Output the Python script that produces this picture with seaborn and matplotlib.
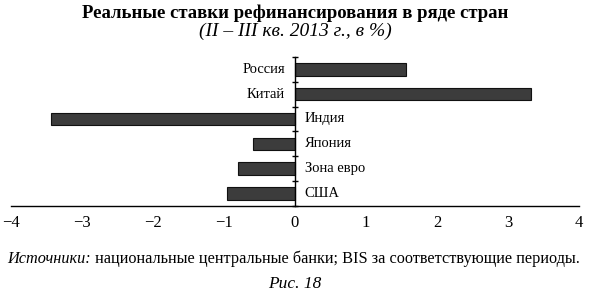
import matplotlib
matplotlib.use("Agg")
import matplotlib.pyplot as plt
import seaborn as sns
import pandas as pd
from matplotlib.transforms import offset_copy

countries = ["Россия", "Китай", "Индия", "Япония", "Зона евро", "США"]
rates = [1.57, 3.33, -3.44, -0.59, -0.80, -0.96]
xticks = [-4, -3, -2, -1, 0, 1, 2, 3, 4]
xticklabels = ["−4", "−3", "−2", "−1", "0", "1", "2", "3", "4"]

title = "Реальные ставки рефинансирования в ряде стран"
subtitle = "(II – III кв. 2013 г., в %)"
source_it = "Источники:"
source_rest = " национальные центральные банки; BIS за соответствующие периоды."
fig_label = "Рис. 18"

sns.set_theme(style="white")
plt.rcParams["font.family"] = ["Liberation Serif", "DejaVu Serif"]

df = pd.DataFrame({"country": countries, "rate": rates})

fig = plt.figure(figsize=(5.90, 3.01), dpi=100)
ax = fig.add_axes([0.0186, 0.316, 0.9626, 0.495])

sns.barplot(data=df, y="country", x="rate", orient="h", ax=ax,
            color="#3c3c3c", edgecolor="#111111", linewidth=0.8,
            width=0.5, saturation=1)

ax.set_xlim(-4, 4)
ax.set_ylim(len(countries) - 0.5, -0.5)
ax.set_xlabel("")
ax.set_ylabel("")
ax.set_xticks(xticks)
ax.set_xticklabels(xticklabels, fontsize=12)
ax.set_yticks([i - 0.5 for i in range(len(countries) + 1)])
ax.set_yticklabels([])

for s in ["top", "right"]:
    ax.spines[s].set_visible(False)
ax.spines["left"].set_position(("data", 0))
ax.spines["left"].set_color("black")
ax.spines["bottom"].set_color("black")
ax.spines["left"].set_linewidth(1.0)
ax.spines["bottom"].set_linewidth(1.0)
ax.tick_params(axis="x", direction="inout", length=5, width=1, color="black", pad=4, labelcolor="black")
ax.tick_params(axis="y", direction="inout", length=5, width=1, color="black", left=True)

for i, (c, v) in enumerate(zip(countries, rates)):
    if v >= 0:
        t = offset_copy(ax.transData, fig=fig, x=-7, y=0, units="points")
        ax.text(0, i, c, transform=t, ha="right", va="center", fontsize=10.5, color="black")
    else:
        t = offset_copy(ax.transData, fig=fig, x=7, y=0, units="points")
        ax.text(0, i, c, transform=t, ha="left", va="center", fontsize=10.5, color="black")

fig.text(0.5, 1 - 13 / 301, title, ha="center", va="center", fontsize=13.5, fontweight="bold", color="black")
fig.text(0.5, 1 - 31 / 301, subtitle, ha="center", va="center", fontsize=14, fontstyle="italic", color="black")

renderer = fig.canvas.get_renderer()
t1 = fig.text(7 / 590, 1 - 259 / 301, source_it, ha="left", va="center", fontsize=11.7, fontstyle="italic", color="black")
bb = t1.get_window_extent(renderer=renderer)
fig.text(bb.x1 / fig.bbox.width, 1 - 259 / 301, source_rest, ha="left", va="center", fontsize=11.7, color="black")

fig.text(0.5, 1 - 284 / 301, fig_label, ha="center", va="center", fontsize=12.5, fontstyle="italic", color="black")

fig.savefig("out.png", dpi=100)
